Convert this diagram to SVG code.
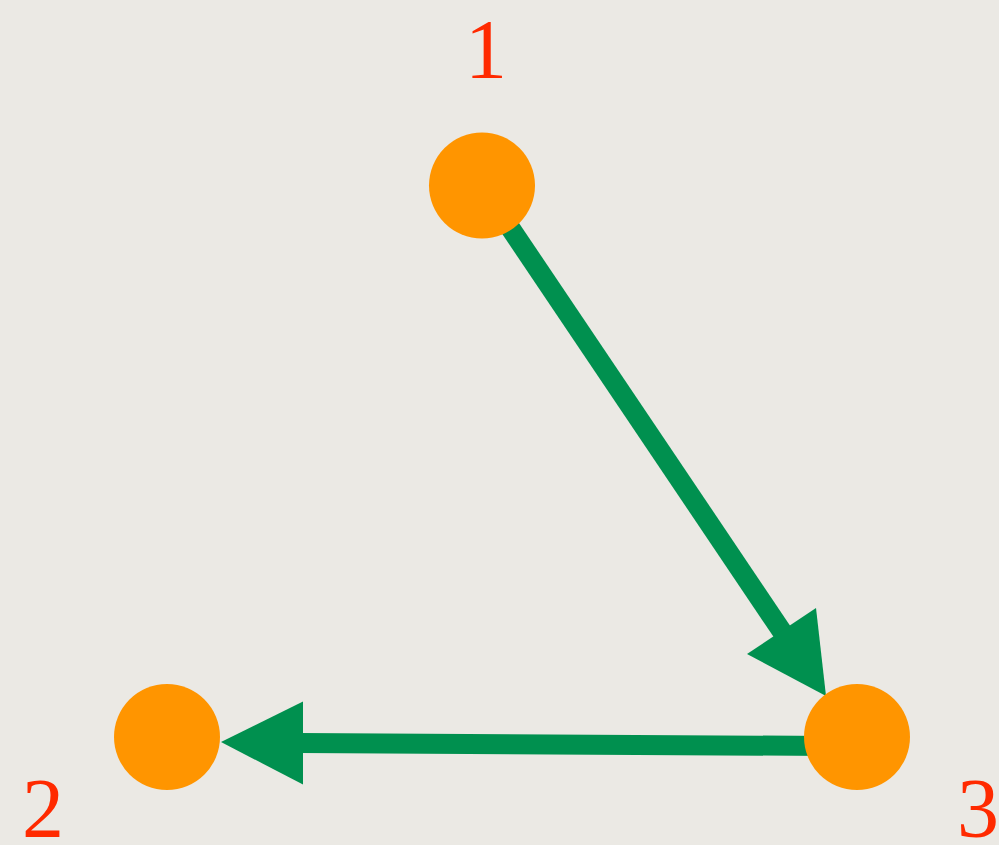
<svg xmlns="http://www.w3.org/2000/svg" width="999" height="845" viewBox="0 0 999 845">
<style>
.node{fill:#ff9500}
.lbl{font-family:"Liberation Serif","Times New Roman",serif;font-size:84px;fill:#ff2a00;text-anchor:middle}
.edge{stroke:#00904f;stroke-width:20;fill:none}
.head{fill:#00904f}
</style>
<rect width="999" height="845" fill="#ebe9e4"/>
<g id="connectors">
<line class="edge" x1="482" y1="186" x2="783" y2="633"/>
<polygon class="head" points="826,696 747,654 816,608"/>
<line class="edge" x1="830" y1="746" x2="300" y2="743"/>
<polygon class="head" points="221,742 303,701.5 303,784.5"/>
</g>
<g id="node1">
<circle class="node" cx="482" cy="185.5" r="53"/>
<text class="lbl" x="486" y="78">1</text>
</g>
<g id="node2">
<circle class="node" cx="167" cy="737" r="53"/>
<text class="lbl" x="43" y="837">2</text>
</g>
<g id="node3">
<circle class="node" cx="857" cy="737" r="53"/>
<text class="lbl" x="978" y="837">3</text>
</g>
</svg>
